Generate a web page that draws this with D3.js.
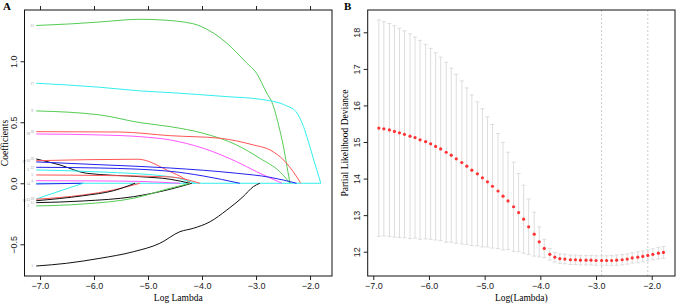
<!DOCTYPE html>
<html>
<head>
<meta charset="utf-8">
<script src="https://cdn.jsdelivr.net/npm/d3@7"></script>
<style>
    body { margin: 0; background: white; }
    svg { display: block; font-family: "Liberation Serif", "DejaVu Serif", serif; }
    .axis path, .axis line { stroke: #222; }
    .axis text { font-size: 9px; fill: #222; }
</style>
</head>
<body>
<div id="chart"></div>
<script>
// ---- panel A: coefficient paths (log lambda, coefficient) ----
const path21 = [[-7.07,1.293],[-6.44,1.306],[-5.89,1.322],[-5.15,1.344],[-4.78,1.339],[-4.17,1.308],[-4.01,1.284],[-3.54,1.148],[-3.17,0.984],[-2.99,0.902],[-2.80,0.738],[-2.71,0.669],[-2.56,0.437],[-2.48,0.273],[-2.41,0.095],[-2.37,0]];
const path17 = [[-7.07,0.820],[-5.89,0.787],[-5.15,0.757],[-4.59,0.743],[-3.54,0.710],[-2.93,0.689],[-2.43,0.634],[-2.26,0.587],[-2.12,0.464],[-2.04,0.355],[-1.93,0.191],[-1.80,0]];
const path9 = [[-7.07,0.593],[-5.89,0.560],[-5.15,0.497],[-4.59,0.464],[-3.98,0.410],[-3.36,0.314],[-2.93,0.205],[-2.56,0.095],[-2.37,0]];
const path26 = [[-7.07,0.423],[-5.52,0.420],[-4.59,0.390],[-3.67,0.369],[-3.05,0.314],[-2.74,0.273],[-2.46,0.177],[-2.31,0.095],[-2.17,0]];
const path28 = [[-7.07,0.404],[-5.89,0.396],[-5.15,0.382],[-4.59,0.355],[-3.98,0.287],[-3.36,0.177],[-2.99,0.095],[-2.52,0]];
const path30 = [[-7.07,0.199],[-6.63,0.150],[-6.14,0.082],[-5.15,0.054],[-4.59,0.033],[-4.22,0]];
const path10 = [[-7.07,0.185],[-5.19,0.197],[-4.59,0.095],[-4.35,0.043],[-4.22,0]];
const path27 = [[-7.07,0.175],[-5.89,0.152],[-4.59,0.125],[-3.36,0.082],[-2.74,0.049],[-2.25,0]];
const path22 = [[-7.07,0.131],[-5.89,0.125],[-4.59,0.098],[-3.98,0.060],[-3.30,0]];
const path2 = [[-7.07,0.109],[-5.89,0.093],[-4.59,0.054],[-4.13,0]];
const path5 = [[-7.07,0.068],[-5.89,0.064],[-4.59,0.052],[-4.04,0]];
const path4 = [[-7.07,0.021],[-5.89,0.019],[-5.15,0.015],[-4.41,0]];
const path14 = [[-7.07,-0.006],[-6.20,0]];
const path18 = [[-7.07,-0.129],[-6.63,-0.063],[-6.20,0]];
const path13 = [[-7.07,-0.131],[-6.20,-0.096],[-5.64,-0.055],[-5.15,0]];
const path19 = [[-7.07,-0.143],[-6.20,-0.102],[-5.64,-0.061],[-5.24,0]];
const path11 = [[-7.07,-0.159],[-6.20,-0.145],[-5.27,-0.110],[-4.59,-0.049],[-4.19,0]];
const path3 = [[-7.07,-0.186],[-6.20,-0.170],[-5.27,-0.123],[-4.59,-0.041],[-4.22,0]];
const path1 = [[-7.07,-0.678],[-6.51,-0.656],[-5.89,-0.615],[-5.27,-0.561],[-4.78,-0.492],[-4.41,-0.397],[-4.16,-0.369],[-3.85,-0.315],[-3.54,-0.219],[-3.24,-0.110],[-3.05,-0.028],[-2.93,0]];
const pathZero = [[-7.07,0],[-1.80,0]];

const pathNames = ["1","3","11","19","13","18","14","4","5","2","22","27","10","30","28","26","9","17","21",""];
const pathData = [path1, path3, path11, path19, path13, path18, path14, path4, path5, path2, path22, path27, path10, path30, path28, path26, path9, path17, path21, pathZero];
const pathColorKey = ["k","g","k","k","r","c","b","m","r","c","b","b","r","k","m","r","g","c","g","c"];

// ---- panel B: cross-validation curve ----
const logLambda = [-6.90,-6.81,-6.71,-6.62,-6.53,-6.44,-6.34,-6.25,-6.16,-6.06,
    -5.97,-5.88,-5.79,-5.69,-5.60,-5.51,-5.41,-5.32,-5.23,-5.13,
    -5.04,-4.95,-4.86,-4.76,-4.67,-4.58,-4.48,-4.39,-4.30,-4.21,
    -4.11,-4.02,-3.93,-3.83,-3.74,-3.65,-3.56,-3.46,-3.37,-3.28,
    -3.18,-3.09,-3.00,-2.90,-2.81,-2.72,-2.63,-2.53,-2.44,-2.35,
    -2.25,-2.16,-2.07,-1.98,-1.88,-1.79];
const cvMean = [15.38,15.36,15.33,15.29,15.25,15.21,15.16,15.12,15.06,15.01,
    14.95,14.88,14.81,14.72,14.64,14.54,14.44,14.34,14.23,14.13,
    14.02,13.91,13.79,13.66,13.52,13.39,13.23,13.07,12.89,12.68,
    12.48,12.27,12.09,11.93,11.85,11.81,11.80,11.78,11.78,11.77,
    11.77,11.77,11.76,11.76,11.76,11.76,11.77,11.78,11.80,11.83,
    11.85,11.87,11.90,11.93,11.96,11.98];
const cvSd = [2.96,2.93,2.91,2.89,2.86,2.83,2.80,2.75,2.72,2.66,
    2.61,2.56,2.51,2.46,2.38,2.31,2.23,2.14,2.06,1.97,
    1.89,1.78,1.69,1.57,1.47,1.33,1.22,1.07,0.93,0.76,
    0.60,0.41,0.25,0.16,0.13,0.13,0.13,0.13,0.13,0.13,
    0.13,0.13,0.13,0.13,0.13,0.14,0.14,0.14,0.14,0.14,
    0.15,0.15,0.15,0.15,0.16,0.16];
const lambdaMin = -2.90;
const lambda1se = -2.07;

const xTicks = [-7, -6, -5, -4, -3, -2];
const coefTicks = [-0.5, 0, 0.5, 1.0];
const devTicks = [12, 13, 14, 15, 16, 17, 18];

const palette = { k: "#111", r: "#f55", g: "#5c5", b: "#22e", c: "#3ee", m: "#f5f" };

const svg = d3.select("#chart").append("svg")
    .attr("width", 676)
    .attr("height", 303);

function rotateYLabels(g) {
    g.selectAll("text")
        .attr("x", 0)
        .attr("dy", 0)
        .attr("text-anchor", "middle")
        .attr("transform", "translate(-8,0) rotate(-90)");
}

// ---------- panel A ----------
let a = { left: 24.5, right: 332, top: 10, bottom: 276 };

let xA = d3.scaleLinear().domain([-7.287, -1.593]).range([a.left, a.right]);
let yA = d3.scaleLinear().domain([-0.760, 1.420]).range([a.bottom, a.top]);

let lineA = d3.line()
    .x(d => xA(d[0]))
    .y(d => yA(d[1]))
    .curve(d3.curveMonotoneX);

// zero line first, then paths
for (let i = pathData.length - 1; i >= 0; i--) {
    svg.append("path")
        .datum(pathData[i])
        .attr("fill", "none")
        .attr("stroke", palette[pathColorKey[i]])
        .attr("stroke-width", 1)
        .attr("d", lineA);
}

// small variable labels at the left end, staggered in 3 columns where they crowd
let labelData = pathData
    .map((d, i) => ({ name: pathNames[i], y: yA(d[0][1]), x0: xA(d[0][0]) }))
    .filter(d => d.name !== "")
    .sort((p, q) => p.y - q.y);

let shift = 0;
labelData.forEach((d, i) => {
    if (i > 0 && d.y - labelData[i - 1].y < 3.6) shift = (shift + 1) % 3;
    else shift = 0;
    d.dx = shift * 4;
});

svg.selectAll(".var-label")
    .data(labelData)
    .enter()
    .append("text")
    .attr("class", "var-label")
    .attr("x", d => d.x0 - 4 - d.dx)
    .attr("y", d => d.y + 1.3)
    .attr("text-anchor", "middle")
    .attr("font-size", 3.6)
    .attr("fill", "#999")
    .text(d => d.name);

svg.append("g")
    .attr("class", "axis")
    .attr("transform", "translate(0," + a.bottom + ")")
    .call(d3.axisBottom(xA).tickValues(xTicks).tickSize(4).tickPadding(3).tickSizeOuter(0))
    .select(".domain").remove();

svg.append("g")
    .attr("class", "axis")
    .attr("transform", "translate(0," + a.top + ")")
    .call(d3.axisTop(xA).tickValues(xTicks).tickSize(4).tickFormat("").tickSizeOuter(0))
    .select(".domain").remove();

svg.append("g")
    .attr("class", "axis")
    .attr("transform", "translate(" + a.left + ",0)")
    .call(d3.axisLeft(yA).tickValues(coefTicks).tickSize(4).tickFormat(d3.format(".1f")).tickSizeOuter(0))
    .call(rotateYLabels)
    .select(".domain").remove();

svg.append("rect")
    .attr("x", a.left).attr("y", a.top)
    .attr("width", a.right - a.left).attr("height", a.bottom - a.top)
    .attr("fill", "none").attr("stroke", "#111");

svg.append("text")
    .attr("x", (a.left + a.right) / 2).attr("y", 301)
    .attr("text-anchor", "middle").attr("font-size", 9.5)
    .text("Log Lambda");

svg.append("text")
    .attr("transform", "translate(7.5," + (a.top + a.bottom) / 2 + ") rotate(-90)")
    .attr("text-anchor", "middle").attr("font-size", 9.5)
    .text("Coefficients");

svg.append("text")
    .attr("x", 3).attr("y", 10)
    .attr("font-size", 11).attr("font-weight", "bold")
    .text("A");

// ---------- panel B ----------
let b = { left: 367.7, right: 675, top: 10, bottom: 276 };

let xB = d3.scaleLinear().domain([-7.10, -1.582]).range([b.left, b.right]);
let yB = d3.scaleLinear().domain([11.336, 18.61]).range([b.bottom, b.top]);

let cv = logLambda.map((l, i) => ({ l: l, m: cvMean[i], sd: cvSd[i] }));

// dotted reference lines
[lambdaMin, lambda1se].forEach(v => {
    svg.append("line")
        .attr("x1", xB(v)).attr("x2", xB(v))
        .attr("y1", b.top).attr("y2", b.bottom)
        .attr("stroke", "#bbb")
        .attr("stroke-width", 0.8)
        .attr("stroke-dasharray", "2,2");
});

// error bars
let bars = svg.append("g")
    .attr("stroke", "#d9d9d9")
    .attr("stroke-width", 0.9);

bars.selectAll(".bar")
    .data(cv)
    .enter()
    .append("line")
    .attr("x1", d => xB(d.l)).attr("x2", d => xB(d.l))
    .attr("y1", d => yB(d.m + d.sd)).attr("y2", d => yB(d.m - d.sd));

bars.selectAll(".cap-up")
    .data(cv)
    .enter()
    .append("line")
    .attr("x1", d => xB(d.l) - 2).attr("x2", d => xB(d.l) + 2)
    .attr("y1", d => yB(d.m + d.sd)).attr("y2", d => yB(d.m + d.sd));

bars.selectAll(".cap-lo")
    .data(cv)
    .enter()
    .append("line")
    .attr("x1", d => xB(d.l) - 2).attr("x2", d => xB(d.l) + 2)
    .attr("y1", d => yB(d.m - d.sd)).attr("y2", d => yB(d.m - d.sd));

svg.selectAll(".cv-point")
    .data(cv)
    .enter()
    .append("circle")
    .attr("class", "cv-point")
    .attr("cx", d => xB(d.l))
    .attr("cy", d => yB(d.m))
    .attr("r", 1.6)
    .attr("fill", "#f33");

svg.append("g")
    .attr("class", "axis")
    .attr("transform", "translate(0," + b.bottom + ")")
    .call(d3.axisBottom(xB).tickValues(xTicks).tickSize(4).tickPadding(3).tickSizeOuter(0))
    .select(".domain").remove();

svg.append("g")
    .attr("class", "axis")
    .attr("transform", "translate(" + b.left + ",0)")
    .call(d3.axisLeft(yB).tickValues(devTicks).tickSize(4).tickSizeOuter(0))
    .call(rotateYLabels)
    .select(".domain").remove();

svg.append("rect")
    .attr("x", b.left).attr("y", b.top)
    .attr("width", b.right - b.left).attr("height", b.bottom - b.top)
    .attr("fill", "none").attr("stroke", "#111");

svg.append("text")
    .attr("x", (b.left + b.right) / 2).attr("y", 301)
    .attr("text-anchor", "middle").attr("font-size", 9.5)
    .text("Log(Lambda)");

svg.append("text")
    .attr("transform", "translate(348," + (b.top + b.bottom) / 2 + ") rotate(-90)")
    .attr("text-anchor", "middle").attr("font-size", 9.5)
    .text("Partial Likelihood Deviance");

svg.append("text")
    .attr("x", 344).attr("y", 10)
    .attr("font-size", 11).attr("font-weight", "bold")
    .text("B");
</script>
</body>
</html>
